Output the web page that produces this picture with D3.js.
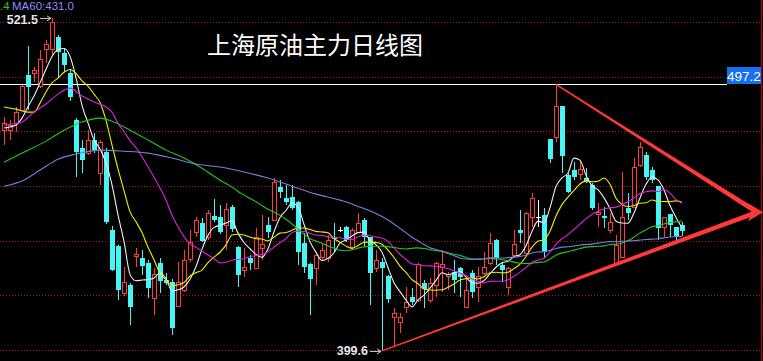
<!DOCTYPE html>
<html><head><meta charset="utf-8">
<script src="https://cdn.jsdelivr.net/npm/d3@7"></script>
<style>html,body{margin:0;padding:0;background:#000;overflow:hidden}svg{display:block}</style>
</head><body>
<svg id="chart" width="763" height="361"></svg>
<script>
// ---- data ----
const opens = [480.4,480.4,483.0,487.8,500.6,501.3,496.6,510.1,510.1,514.5,
508.6,501.3,484.1,473.8,472.0,476.8,464.7,472.4,443.8,438.0,
420.7,423.7,434.3,433.6,431.7,418.9,431.7,425.5,424.8,416.0,
421.8,433.2,443.1,446.4,441.3,448.9,448.6,445.6,452.2,437.6,
429.2,433.6,429.9,437.2,445.6,447.5,459.6,455.5,455.9,454.1,
439.1,431.4,429.9,433.9,433.6,441.3,443.8,444.9,437.6,443.1,
447.5,441.3,429.9,432.1,427.0,411.9,410.1,415.6,419.3,418.2,
424.4,418.2,423.7,430.3,427.0,428.4,429.9,415.6,428.1,422.9,
428.1,431.7,440.1,431.0,422.9,434.7,443.8,435.4,448.6,448.6,
449.3,477.1,477.9,489.2,464.0,465.8,464.3,462.9,460.3,449.7,
448.9,443.8,431.7,433.9,451.9,452.2,467.6,471.3,465.8,459.9,
444.9,449.7,444.9,445.6];
const highs = [485.2,484.1,488.9,496.9,511.2,503.5,509.7,513.4,521.5,515.2,
510.5,502.4,484.8,476.8,480.4,479.3,476.8,473.8,445.3,438.3,
430.3,424.4,437.2,436.5,432.8,429.9,433.6,428.1,425.9,432.1,
436.5,443.8,448.6,448.2,451.1,455.2,453.0,453.7,453.0,438.0,
437.2,434.7,444.5,449.3,448.6,462.9,462.1,460.3,460.3,454.4,
442.7,431.7,435.8,439.1,442.0,446.4,444.9,445.3,444.5,450.0,
448.2,441.3,436.5,433.6,427.3,415.2,413.4,422.9,422.6,431.7,
425.5,426.2,432.1,436.5,428.4,432.8,430.3,426.6,429.2,430.3,
435.8,442.7,440.5,431.7,430.3,443.8,451.1,450.4,457.4,454.8,
451.9,477.1,497.2,489.2,464.7,468.7,469.5,466.5,461.0,453.7,
452.2,450.0,442.0,465.1,457.4,470.2,476.0,472.4,466.9,459.9,
448.6,449.7,444.9,446.7];
const lows = [475.0,476.8,479.7,487.5,487.8,498.0,495.8,505.0,507.5,499.9,
501.7,491.1,463.2,464.7,471.3,472.0,460.3,446.0,428.8,418.2,
419.6,409.0,430.3,427.3,418.9,412.7,420.7,423.7,405.3,415.6,
421.1,432.1,441.3,439.4,440.1,446.7,442.3,436.5,443.1,422.9,
426.6,429.2,429.5,432.8,440.9,447.2,455.5,453.0,451.1,431.0,
428.1,412.7,423.7,432.8,432.1,435.8,443.1,439.4,436.5,442.7,
437.6,416.3,428.4,399.6,417.1,401.0,406.1,413.4,416.3,417.4,
415.2,417.1,419.3,421.1,421.8,420.7,419.3,415.4,418.9,417.4,
427.3,431.0,431.0,424.8,420.0,433.9,439.1,434.7,444.9,444.9,
433.9,468.4,476.0,464.7,457.4,462.1,462.1,461.0,451.1,444.9,
444.5,442.7,431.0,433.6,447.5,452.0,466.9,462.1,461.0,440.1,
441.3,441.3,440.1,441.6];
const closes = [483.0,482.3,487.0,496.6,496.2,502.4,506.4,511.9,520.0,509.0,
504.2,492.5,472.4,469.5,476.8,473.1,476.0,446.7,429.2,421.8,
424.8,415.6,435.0,430.6,422.6,427.7,425.1,424.4,407.9,424.8,
432.8,439.4,447.5,439.8,450.0,447.5,443.1,451.5,444.2,427.3,
430.3,431.7,441.3,438.7,443.1,461.4,457.7,454.1,451.9,435.8,
430.3,425.9,434.7,436.5,440.1,440.5,443.8,440.1,443.8,446.4,
441.3,428.1,432.8,429.9,418.5,413.4,411.9,417.4,417.4,431.4,
422.2,424.4,431.7,431.4,427.7,425.5,426.6,421.8,421.1,427.0,
430.3,439.1,433.6,429.2,429.9,438.7,442.7,450.0,455.5,448.6,
436.1,469.8,489.2,470.9,457.7,463.2,466.2,461.4,451.9,450.4,
448.2,446.7,438.3,448.6,450.0,466.9,474.2,463.2,462.1,444.5,
448.6,445.6,441.6,443.4];

const ma5Lead  = [[0,481.2],[1,481.6],[2,482.3],[3,484.8]];
const ma10Lead = [[0,488.9],[2,488.1],[4,487.0],[5,487.0],[6,490.3],[7,494.4],[8,497.7]];
const ma20Lead = [[0,482.3],[3,483.4],[5,487.0],[7,490.0],[9,493.6],[11,495.8],[13,492.9],[15,490.7],[17,488.9],[18,487.0]];
const ma40Lead = [[0,468.7],[3,472.0],[7,476.4],[10,480.4],[13,483.4],[16,484.8],[18,483.7],[21,480.4],[24,476.8],[27,473.1],[30,470.2],[33,466.5],[36,462.1],[38,459.6]];
const ma60Lead = [[0,459.9],[3,461.8],[6,465.8],[9,469.8],[12,471.7],[16,473.1],[20,472.7],[24,472.0],[28,470.2],[32,468.0],[36,466.9],[40,465.1],[44,462.9],[48,459.9],[52,457.0],[56,454.8],[58,453.4]];
const maPeriods = [5, 10, 20, 40, 60];
const maColors = ["#f0f0f0", "#f0f000", "#e020e0", "#20c820", "#7c7ce0"];

const gridValues = [520, 500, 480, 460, 440, 420, 400];
const titleText = "上海原油主力日线图";
const topLabelA = ".4";
const topLabelB = "MA60:431.0";
const highMark = {index: 8, value: 521.5};
const lowMark = {index: 63, value: 399.6};
const priceLine = 497.2;
const trendLines = [
  {from: [92, 497.2], to: [125.5, 450.4]},
  {from: [63, 399.6], to: [125.5, 450.4]}
];

// ---- drawing ----
const W = 763, H = 361;
const svg = d3.select("#chart");
svg.append("rect").attr("width", W).attr("height", H).attr("fill", "#000");

const x = d3.scaleLinear().domain([0, 113]).range([4, 682]);
const y = d3.scaleLinear().domain([420, 520]).range([295.2, 22]);

const RED = "#ff3c3c", CYAN = "#44f6f6";

// grid
svg.append("g").selectAll("line").data(gridValues).join("line")
  .attr("x1", 0).attr("x2", 760)
  .attr("y1", d => Math.round(y(d)) + 0.5).attr("y2", d => Math.round(y(d)) + 0.5)
  .attr("stroke", "#b01818").attr("stroke-width", 1).attr("stroke-dasharray", "1 2");

// price line
svg.append("line").attr("x1", 0).attr("x2", 727)
  .attr("y1", Math.round(y(priceLine)) + 0.5).attr("y2", Math.round(y(priceLine)) + 0.5)
  .attr("stroke", "#ffffff").attr("stroke-width", 1.2);

// right border
svg.append("line").attr("x1", 761.5).attr("x2", 761.5).attr("y1", 0).attr("y2", H)
  .attr("stroke", "#8a1010").attr("stroke-width", 1.5);

// candles
const bars = d3.range(closes.length).map(i => ({i, o: opens[i], h: highs[i], l: lows[i], c: closes[i]}));
const cg = svg.append("g");
bars.forEach(d => {
  const cx = Math.round(x(d.i));
  const up = d.c > d.o, flat = d.c === d.o;
  const col = flat ? "#ffffff" : (up ? RED : CYAN);
  const top = Math.round(y(Math.max(d.o, d.c)));
  const bot = Math.round(y(Math.min(d.o, d.c)));
  const yh = Math.round(y(d.h)), yl = Math.round(y(d.l));
  const wx = cx + 0.5;
  if (flat) {
    cg.append("line").attr("x1", wx).attr("x2", wx).attr("y1", yh).attr("y2", yl).attr("stroke", col);
    cg.append("line").attr("x1", cx - 2).attr("x2", cx + 3).attr("y1", top + 0.5).attr("y2", top + 0.5).attr("stroke", col);
  } else if (up) {
    cg.append("line").attr("x1", wx).attr("x2", wx).attr("y1", yh).attr("y2", top).attr("stroke", col);
    cg.append("line").attr("x1", wx).attr("x2", wx).attr("y1", bot + 1).attr("y2", yl).attr("stroke", col);
    cg.append("rect").attr("x", cx - 1.5).attr("y", top + 0.5).attr("width", 4)
      .attr("height", Math.max(bot - top, 1)).attr("fill", "#000").attr("stroke", col).attr("stroke-width", 1);
  } else {
    cg.append("line").attr("x1", wx).attr("x2", wx).attr("y1", yh).attr("y2", yl).attr("stroke", col);
    cg.append("rect").attr("x", cx - 2).attr("y", top).attr("width", 5)
      .attr("height", Math.max(bot - top, 1)).attr("fill", col);
  }
});

// moving averages
const leads = [ma5Lead, ma10Lead, ma20Lead, ma40Lead, ma60Lead];
function maSeries(n, lead) {
  const pts = lead.map(d => [d[0], d[1]]);
  for (let i = n - 1; i < closes.length; i++) pts.push([i, d3.mean(closes.slice(i - n + 1, i + 1))]);
  return pts;
}
const line = d3.line().x(d => x(d[0])).y(d => y(d[1])).curve(d3.curveMonotoneX);
maPeriods.forEach((n, k) => {
  svg.append("path").attr("d", line(maSeries(n, leads[k])))
    .attr("fill", "none").attr("stroke", maColors[k]).attr("stroke-width", 1.1);
});

// trend lines (tapered) + arrow head
const tg = svg.append("g").attr("fill", "#ff3838");
trendLines.forEach(t => {
  const x0 = x(t.from[0]), y0 = y(t.from[1]), x1 = x(t.to[0]), y1 = y(t.to[1]);
  const dx = x1 - x0, dy = y1 - y0, len = Math.hypot(dx, dy);
  const nx = -dy / len, ny = dx / len;
  const w0 = 0.7, w1 = 2.4;
  tg.append("polygon").attr("points", [
    [x0 + nx * w0, y0 + ny * w0], [x1 + nx * w1, y1 + ny * w1],
    [x1 - nx * w1, y1 - ny * w1], [x0 - nx * w0, y0 - ny * w0]].map(p => p.join(",")).join(" "));
});
{
  const ax = x(trendLines[0].to[0]), ay = y(trendLines[0].to[1]);
  tg.append("polygon").attr("points", [[ax + 6, ay], [ax - 9, ay - 9], [ax - 5, ay], [ax - 9, ay + 9]].map(p => p.join(",")).join(" "));
}

// labels
const font = "'Liberation Sans', Arial, sans-serif";
svg.append("text").attr("x", 0).attr("y", 10).attr("font-family", font).attr("font-size", 11.5)
  .attr("fill", "#20c820").text(topLabelA);
svg.append("text").attr("x", 12).attr("y", 10).attr("font-family", font).attr("font-size", 11.5)
  .attr("fill", "#8c8cff").text(topLabelB);

svg.append("text").attr("x", 315).attr("y", 54).attr("text-anchor", "middle")
  .attr("font-family", "'Noto Sans CJK SC', sans-serif").attr("font-size", 24)
  .attr("fill", "#ffffff").text(titleText);

function markLabel(m, dy) {
  const mx = x(m.index), my = y(m.value);
  svg.append("text").attr("x", mx - 14).attr("y", my + dy).attr("text-anchor", "end")
    .attr("font-family", font).attr("font-size", 12.5).attr("font-weight", "bold")
    .attr("fill", "#e6e6e6").text(m.value.toFixed(1));
  svg.append("line").attr("x1", mx - 12).attr("x2", mx - 1).attr("y1", my + 0.5).attr("y2", my + 0.5)
    .attr("stroke", "#cfcfcf").attr("stroke-width", 1);
  svg.append("path").attr("d", `M${mx - 1},${my + 0.5} l-4,-2.5 M${mx - 1},${my + 0.5} l-4,2.5`)
    .attr("stroke", "#cfcfcf").attr("fill", "none");
}
markLabel(highMark, 6.5);
markLabel(lowMark, 4);

// price tag
const py = Math.round(y(priceLine));
svg.append("rect").attr("x", 727).attr("y", py - 17).attr("width", 34).attr("height", 17).attr("fill", "#1470f0");
svg.append("text").attr("x", 744).attr("y", py - 3.5).attr("text-anchor", "middle")
  .attr("font-family", font).attr("font-size", 13.5).attr("fill", "#ffffff").text(priceLine.toFixed(1));
</script>
</body></html>
